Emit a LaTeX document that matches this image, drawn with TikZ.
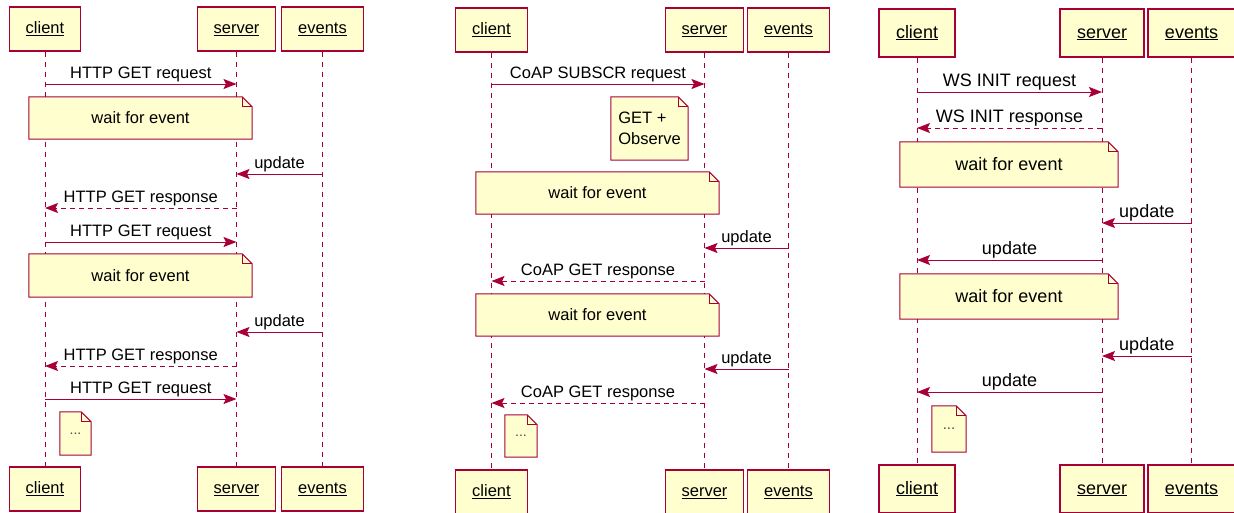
\documentclass[tikz,border=0pt]{standalone}
\usepackage{fontspec}
\setmainfont{Liberation Sans}
\usepackage{tikz}
\usetikzlibrary{arrows.meta}
\definecolor{pu}{HTML}{A80036}
\definecolor{puyel}{HTML}{FEFECE}

% dog-eared outline drawn over a note node
\newcommand{\fold}[1]{%
  \fill[white] ([xshift=-10pt]#1.north east) -- (#1.north east) -- ([yshift=-10pt]#1.north east) -- cycle;
  \draw[pu, line width=1pt] (#1.north west) -- ([xshift=-10pt]#1.north east) -- ([yshift=-10pt]#1.north east) -- (#1.south east) -- (#1.south west) -- cycle;
  \draw[pu, line width=1pt] ([xshift=-10pt]#1.north east) |- ([yshift=-10pt]#1.north east);}

\begin{document}
\begin{tikzpicture}[x=1pt, y=-1pt, every node/.style={font=\fontsize{16.5}{21}\selectfont}, actor/.style={draw=pu, fill=puyel, line width=1.1pt, minimum height=44pt, inner xsep=16.5pt, text height=12pt, text depth=3pt}, life/.style={draw=pu, dash pattern=on 5pt off 5pt, line width=1pt}, msg/.style={draw=pu, line width=1pt, -{Stealth[length=13pt, width=10pt, inset=2.5pt]}}, reply/.style={msg, dash pattern=on 5pt off 4pt}, lbl/.style={above, inner sep=1.5pt}, note/.style={fill=puyel, inner sep=0pt, align=center}, dots/.style={note, font=\fontsize{14}{16}\selectfont, text=black!70}]
\useasboundingbox (0,0) rectangle (1234,512);
% left: HTTP long polling
\node[actor] (cA) at (45,29) {\underline{client}};
\node[actor] (sA) at (236.5,29) {\underline{server}};
\node[actor] (eA) at (322.5,29) {\underline{events}};
\node[actor] (cA2) at (45,489) {\underline{client}};
\node[actor] (sA2) at (236.5,489) {\underline{server}};
\node[actor] (eA2) at (322.5,489) {\underline{events}};
\draw[life] (cA.south) -- (cA2.north); \draw[life] (sA.south) -- (sA2.north); \draw[life] (eA.south) -- (eA2.north);
\node[note, minimum width=223pt, minimum height=42pt] (wA1) at (140.5,118) {wait for event}; \fold{wA1}
\node[note, minimum width=223pt, minimum height=43pt] (wA2) at (140.5,275.5) {wait for event}; \fold{wA2}
\node[dots, minimum width=31pt, minimum height=43pt] (dA) at (75.5,433.5) {...}; \fold{dA}
\draw[msg] (cA |- 0,84) -- (sA |- 0,84) node[lbl, midway] {HTTP GET request};
\draw[msg] (eA |- 0,174) -- (sA |- 0,174) node[lbl, midway] {update};
\draw[reply] (sA |- 0,208) -- (cA |- 0,208) node[lbl, midway] {HTTP GET response};
\draw[msg] (cA |- 0,242) -- (sA |- 0,242) node[lbl, midway] {HTTP GET request};
\draw[msg] (eA |- 0,332) -- (sA |- 0,332) node[lbl, midway] {update};
\draw[reply] (sA |- 0,366) -- (cA |- 0,366) node[lbl, midway] {HTTP GET response};
\draw[msg] (cA |- 0,399) -- (sA |- 0,399) node[lbl, midway] {HTTP GET request};
% middle: CoAP observe
\node[actor] (cB) at (491.5,30) {\underline{client}};
\node[actor] (sB) at (704.5,30) {\underline{server}};
\node[actor] (eB) at (788.5,30) {\underline{events}};
\node[actor] (cB2) at (491.5,492) {\underline{client}};
\node[actor] (sB2) at (704.5,492) {\underline{server}};
\node[actor] (eB2) at (788.5,492) {\underline{events}};
\draw[life] (cB.south) -- (cB2.north); \draw[life] (sB.south) -- (sB2.north); \draw[life] (eB.south) -- (eB2.north);
\node[note, minimum width=77pt, minimum height=63pt, align=left] (oB) at (649.5,128.5) {GET +\\Observe}; \fold{oB}
\node[note, minimum width=243pt, minimum height=42pt] (wB1) at (597.5,193) {wait for event}; \fold{wB1}
\node[note, minimum width=243pt, minimum height=42pt] (wB2) at (597.5,315) {wait for event}; \fold{wB2}
\node[dots, minimum width=32pt, minimum height=42pt] (dB) at (521,436) {...}; \fold{dB}
\draw[msg] (cB |- 0,84) -- (sB |- 0,84) node[lbl, midway] {CoAP SUBSCR request};
\draw[msg] (eB |- 0,248) -- (sB |- 0,248) node[lbl, midway] {update};
\draw[reply] (sB |- 0,281) -- (cB |- 0,281) node[lbl, midway] {CoAP GET response};
\draw[msg] (eB |- 0,369) -- (sB |- 0,369) node[lbl, midway] {update};
\draw[reply] (sB |- 0,403) -- (cB |- 0,403) node[lbl, midway] {CoAP GET response};
% right: WebSocket
\begin{scope}[every node/.style={font=\fontsize{18}{22}\selectfont}, actor/.append style={minimum height=48pt, inner xsep=17pt, text height=13pt, text depth=3pt}]
\node[actor] (cC) at (917,33) {\underline{client}};
\node[actor] (sC) at (1102,33) {\underline{server}};
\node[actor] (eC) at (1191.5,33) {\underline{events}};
\node[actor] (cC2) at (917,489) {\underline{client}};
\node[actor] (sC2) at (1102,489) {\underline{server}};
\node[actor] (eC2) at (1191.5,489) {\underline{events}};
\draw[life] (cC.south) -- (cC2.north); \draw[life] (sC.south) -- (sC2.north); \draw[life] (eC.south) -- (eC2.north);
\node[note, minimum width=218pt, minimum height=45pt] (wC1) at (1009,164.5) {wait for event}; \fold{wC1}
\node[note, minimum width=218pt, minimum height=45pt] (wC2) at (1009,296.5) {wait for event}; \fold{wC2}
\node[dots, minimum width=34pt, minimum height=46pt, font=\fontsize{15}{17}\selectfont] (dC) at (949,429) {...}; \fold{dC}
\draw[msg] (cC |- 0,92) -- (sC |- 0,92) node[lbl, midway] {WS INIT request};
\draw[reply] (sC |- 0,128) -- (cC |- 0,128) node[lbl, midway] {WS INIT response};
\draw[msg] (eC |- 0,223) -- (sC |- 0,223) node[lbl, midway] {update};
\draw[msg] (sC |- 0,260) -- (cC |- 0,260) node[lbl, midway] {update};
\draw[msg] (eC |- 0,356) -- (sC |- 0,356) node[lbl, midway] {update};
\draw[msg] (sC |- 0,392) -- (cC |- 0,392) node[lbl, midway] {update};
\end{scope}
\end{tikzpicture}
\end{document}
